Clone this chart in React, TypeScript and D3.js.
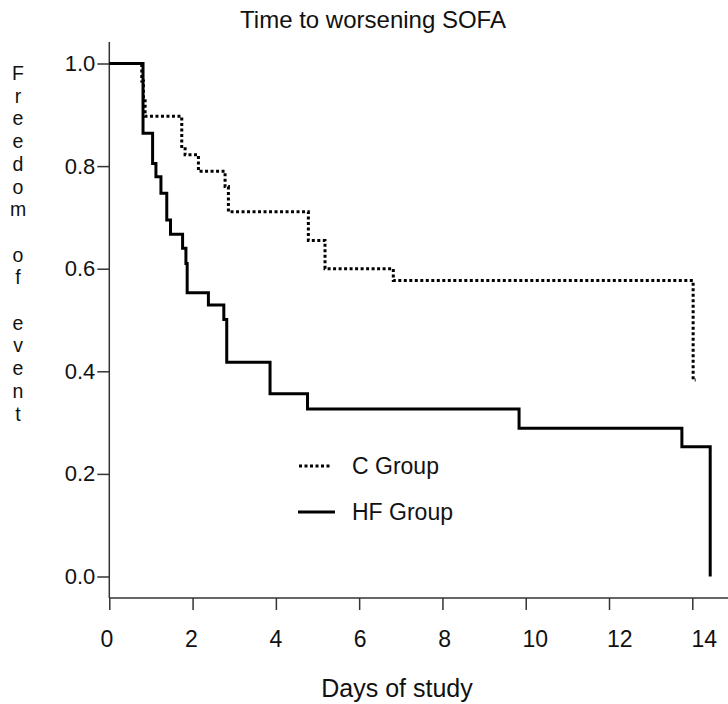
import React, { useEffect, useRef } from 'react'
import * as d3 from 'd3'

// Kaplan-Meier steps (day, freedom of event)
const cDays = [0, 0.78, 0.82, 0.86, 1.74, 1.82, 2.14, 2.78, 2.86, 4.78, 5.18, 6.82, 14.02, 14.08]
const cValues = [1.0, 0.966, 0.931, 0.897, 0.838, 0.822, 0.79, 0.76, 0.711, 0.655, 0.6, 0.577, 0.383, 0.383]

const hfDays = [0, 0.81, 1.04, 1.12, 1.24, 1.38, 1.47, 1.76, 1.84, 1.87, 2.38, 2.75, 2.82, 3.86, 4.76, 9.84, 13.75, 14.43]
const hfValues = [1.0, 0.864, 0.805, 0.779, 0.747, 0.695, 0.667, 0.64, 0.61, 0.553, 0.529, 0.501, 0.4175, 0.356, 0.3265, 0.289, 0.253, 0]

const xTicks = [0, 2, 4, 6, 8, 10, 12, 14]
const yTicks = [0, 0.2, 0.4, 0.6, 0.8, 1.0]
const yLabel = 'Freedom of event'

const font = '"Liberation Sans", Arial, sans-serif'

function App() {
	const ref = useRef(null)
	const width = 728
	const height = 704

	useEffect(() => {
		const svg = d3.select(ref.current)
		svg.selectAll('*').remove()

		const x = d3.scaleLinear().domain([0, 14]).range([109.3, 692.3])
		const y = d3.scaleLinear().domain([0, 1]).range([576.5, 63.5])
		const axisY = 598

		// assen
		const gx = svg.append('g').attr('transform', `translate(0,${axisY})`)
		gx.call(d3.axisBottom(x).tickValues(xTicks).tickSize(12).tickPadding(21).tickFormat(d3.format('d')))
		gx.select('.domain').attr('d', `M${x(0)},0H${width}`)
		// labels in het origineel schuiven iets naar rechts op, twee cijfers meer
		gx.selectAll('.tick text')
			.attr('dx', d => d * 0.6 - 3 + (d >= 10 ? 6 : 0))
			.attr('font-size', 23)

		const gy = svg.append('g').attr('transform', `translate(${x(0)},0)`)
		gy.call(d3.axisLeft(y).tickValues(yTicks).tickSize(12).tickPadding(2).tickFormat(d3.format('.1f')))
		gy.select('.domain').attr('d', `M0,42V${axisY}`)
		gy.selectAll('.tick text').attr('font-size', 22)

		svg.selectAll('.domain, .tick line').attr('stroke', '#333').attr('stroke-width', 1.5)
		svg.selectAll('.tick text')
			.attr('font-family', font)
			.attr('fill', '#111')

		const line = d3
			.line()
			.x(d => x(d[0]))
			.y(d => y(d[1]))
			.curve(d3.curveStepAfter)

		const cData = cDays.map((d, i) => [d, cValues[i]])
		const hfData = hfDays.map((d, i) => [d, hfValues[i]])

		svg.append('path')
			.datum(hfData)
			.attr('d', line)
			.attr('fill', 'none')
			.attr('stroke', '#000')
			.attr('stroke-width', 3)

		svg.append('path')
			.datum(cData)
			.attr('d', line)
			.attr('fill', 'none')
			.attr('stroke', '#000')
			.attr('stroke-width', 3)
			.attr('stroke-dasharray', '3 2.5')

		// legenda
		const legend = [
			{ name: 'C Group', dash: '3 2.5', x1: 299, x2: 331, y: 466 },
			{ name: 'HF Group', dash: null, x1: 298, x2: 335, y: 512 },
		]
		legend.forEach(l => {
			svg.append('line')
				.attr('x1', l.x1)
				.attr('x2', l.x2)
				.attr('y1', l.y)
				.attr('y2', l.y)
				.attr('stroke', '#000')
				.attr('stroke-width', 3)
				.attr('stroke-dasharray', l.dash)
			svg.append('text')
				.attr('x', 352)
				.attr('y', l.y + 8)
				.attr('font-family', font)
				.attr('font-size', 23)
				.attr('fill', '#111')
				.text(l.name)
		})

		// titel en as-labels
		svg.append('text')
			.attr('x', 373)
			.attr('y', 28)
			.attr('text-anchor', 'middle')
			.attr('font-family', font)
			.attr('font-size', 24)
			.attr('fill', '#111')
			.text('Time to worsening SOFA')

		svg.append('text')
			.attr('x', 397)
			.attr('y', 697)
			.attr('text-anchor', 'middle')
			.attr('font-family', font)
			.attr('font-size', 25)
			.attr('fill', '#111')
			.text('Days of study')

		// verticale label, letter voor letter
		svg.append('g')
			.selectAll('text')
			.data(yLabel.split(''))
			.join('text')
			.attr('x', 18)
			.attr('y', (d, i) => 80 + i * 22.7)
			.attr('text-anchor', 'middle')
			.attr('font-family', font)
			.attr('font-size', 19.5)
			.attr('fill', '#111')
			.text(d => d)
	}, [])

	return (
		<svg
			ref={ref}
			width={width}
			height={height}
			style={{ position: 'absolute', left: 0, top: 0, background: '#fff' }}
		/>
	)
}

export default App
